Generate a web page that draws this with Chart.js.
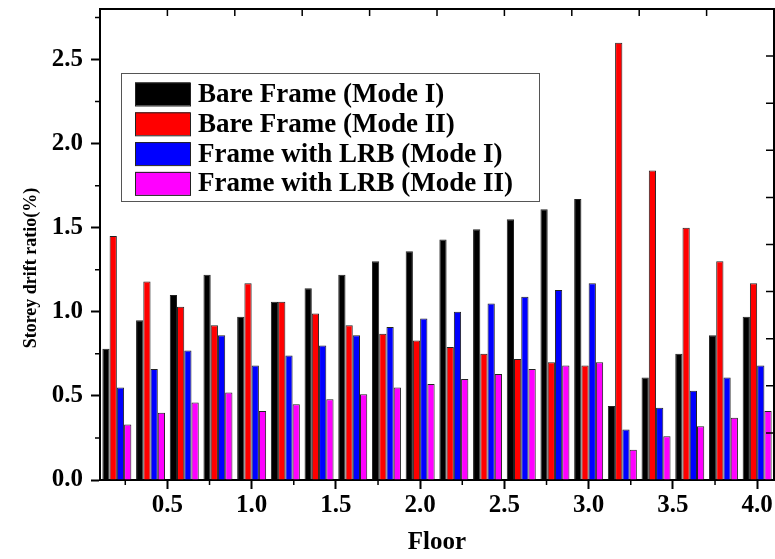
<!DOCTYPE html>
<html>
<head>
<meta charset="UTF-8">
<title>Storey drift ratio</title>
<script src="https://cdn.jsdelivr.net/npm/chart.js"></script>
<style>
  body { margin: 0; background: #fff; }
  #wrap { width: 775px; height: 559px; }
</style>
</head>
<body>
<div id="wrap"><canvas id="drift"></canvas></div>
<script>
  // floor positions (group centres) and the four series
  const floors = ['0.2','0.4','0.6','0.8','1.0','1.2','1.4','1.6','1.8','2.0',
                  '2.2','2.4','2.6','2.8','3.0','3.2','3.4','3.6','3.8','4.0'];
  const seriesNames = ['Bare Frame (Mode I)', 'Bare Frame (Mode II)',
                       'Frame with LRB (Mode I)', 'Frame with LRB (Mode II)'];
  const bareMode1 = [0.78,0.95,1.10,1.22,0.97,1.06,1.14,1.22,1.30,1.36,1.43,1.49,1.55,1.61,1.67,0.44,0.61,0.75,0.86,0.97];
  const bareMode2 = [1.45,1.18,1.03,0.92,1.17,1.06,0.99,0.92,0.87,0.83,0.79,0.75,0.72,0.70,0.68,2.60,1.84,1.50,1.30,1.17];
  const lrbMode1  = [0.55,0.66,0.77,0.86,0.68,0.74,0.80,0.86,0.91,0.96,1.00,1.05,1.09,1.13,1.17,0.30,0.43,0.53,0.61,0.68];
  const lrbMode2  = [0.33,0.40,0.46,0.52,0.41,0.45,0.48,0.51,0.55,0.57,0.60,0.63,0.66,0.68,0.70,0.18,0.26,0.32,0.37,0.41];
  const xTicks = [0.5,1.0,1.5,2.0,2.5,3.0,3.5,4.0];
  const xMinorTicks = [0.25,0.75,1.25,1.75,2.25,2.75,3.25,3.75];
  const yTicks = [0.0,0.5,1.0,1.5,2.0,2.5];
  const yMinorTicks = [0.25,0.75,1.25,1.75,2.25,2.75];

  const colors = ['#000000', '#ff0000', '#0000ff', '#ff00ff'];
  const FONT = '"Liberation Serif", "Times New Roman", serif';
  const yTitle = 'Storey drift ratio(%)';

  // frame, minor ticks, inward top/right ticks, legend box and y title
  const decorations = {
    id: 'decorations',
    afterDraw(chart) {
      const { ctx, chartArea: a } = chart;
      const xs = chart.scales.xt, ys = chart.scales.y;
      ctx.save();
      ctx.strokeStyle = '#000';
      ctx.lineWidth = 2;
      ctx.beginPath();
      ctx.moveTo(a.left, a.top); ctx.lineTo(a.right, a.top); ctx.lineTo(a.right, a.bottom);
      ctx.stroke();

      ctx.lineWidth = 1.5;
      ctx.beginPath();
      yMinorTicks.forEach(v => {
        const y = ys.getPixelForValue(v);
        ctx.moveTo(a.left - 5, y); ctx.lineTo(a.left, y);
      });
      xMinorTicks.forEach(v => {
        const x = xs.getPixelForValue(v);
        ctx.moveTo(x, a.bottom); ctx.lineTo(x, a.bottom + 5);
      });
      for (let i = 1; i < 10; i++) {
        const x = a.left + (a.right - a.left) * i / 10;
        ctx.moveTo(x, a.top); ctx.lineTo(x, a.top + 7);
        const y = a.bottom - (a.bottom - a.top) * i / 10;
        ctx.moveTo(a.right, y); ctx.lineTo(a.right - 8, y);
      }
      ctx.stroke();

      // legend
      const x0 = a.left + 21, y0 = a.top + 64, w = 418, h = 128;
      ctx.fillStyle = '#fff';
      ctx.fillRect(x0, y0, w, h);
      ctx.lineWidth = 1;
      ctx.strokeStyle = '#555';
      ctx.strokeRect(x0 + 0.5, y0 + 0.5, w, h);
      ctx.font = 'bold 27px ' + FONT;
      ctx.textBaseline = 'middle';
      chart.data.datasets.forEach((ds, i) => {
        const cy = y0 + 21 + i * 29.8;
        ctx.fillStyle = ds.backgroundColor;
        ctx.fillRect(x0 + 14, cy - 11.5, 55, 23);
        ctx.strokeStyle = '#222';
        ctx.strokeRect(x0 + 14.5, cy - 11, 55, 23);
        ctx.fillStyle = '#000';
        ctx.fillText(ds.label, x0 + 77, cy + 1);
      });

      // y axis title
      ctx.translate(31, 268);
      ctx.rotate(-Math.PI / 2);
      ctx.textAlign = 'center';
      ctx.font = 'bold 18px ' + FONT;
      ctx.fillText(yTitle, 0, 0);
      ctx.restore();
    }
  };

  const noPadding = axis => {
    axis.paddingTop = 0; axis.paddingBottom = 0;
    axis.paddingLeft = 0; axis.paddingRight = 0;
  };

  const series = [bareMode1, bareMode2, lrbMode1, lrbMode2];

  new Chart(document.getElementById('drift'), {
    type: 'bar',
    data: {
      labels: floors,
      datasets: series.map((d, i) => ({
        label: seriesNames[i],
        data: d,
        backgroundColor: colors[i],
        borderColor: '#222',
        borderWidth: 1,
        categoryPercentage: 0.86,
        barPercentage: 1.0
      }))
    },
    options: {
      responsive: true,
      maintainAspectRatio: false,
      animation: false,
      layout: { padding: { top: 9, right: 1 } },
      plugins: { legend: { display: false }, tooltip: { enabled: false } },
      scales: {
        x: { display: false, offset: true },
        xt: {
          type: 'linear',
          position: 'bottom',
          offset: false,
          min: 0.1,
          max: 4.1,
          afterBuildTicks: axis => { axis.ticks = xTicks.map(v => ({ value: v })); },
          afterFit: axis => { axis.height = 79; noPadding(axis); },
          ticks: {
            callback: v => v.toFixed(1),
            color: '#000',
            font: { family: FONT, size: 25, weight: 'bold' },
            padding: 2,
            maxRotation: 0
          },
          grid: { offset: false, drawOnChartArea: false, tickLength: 9, tickWidth: 2, tickColor: '#000' },
          border: { display: true, width: 2, color: '#000' },
          title: {
            display: true,
            text: 'Floor',
            color: '#000',
            font: { family: FONT, size: 25, weight: 'bold', lineHeight: 1.2 },
            padding: { top: 0, bottom: 1 }
          }
        },
        y: {
          min: 0,
          max: 2.8,
          afterBuildTicks: axis => { axis.ticks = yTicks.map(v => ({ value: v })); },
          afterFit: axis => { axis.width = 100; noPadding(axis); },
          ticks: {
            callback: v => v.toFixed(1),
            color: '#000',
            font: { family: FONT, size: 25, weight: 'bold' },
            padding: 8
          },
          grid: { drawOnChartArea: false, tickLength: 9, tickWidth: 2, tickColor: '#000' },
          border: { display: true, width: 2, color: '#000' }
        }
      }
    },
    plugins: [decorations]
  });
</script>
</body>
</html>
